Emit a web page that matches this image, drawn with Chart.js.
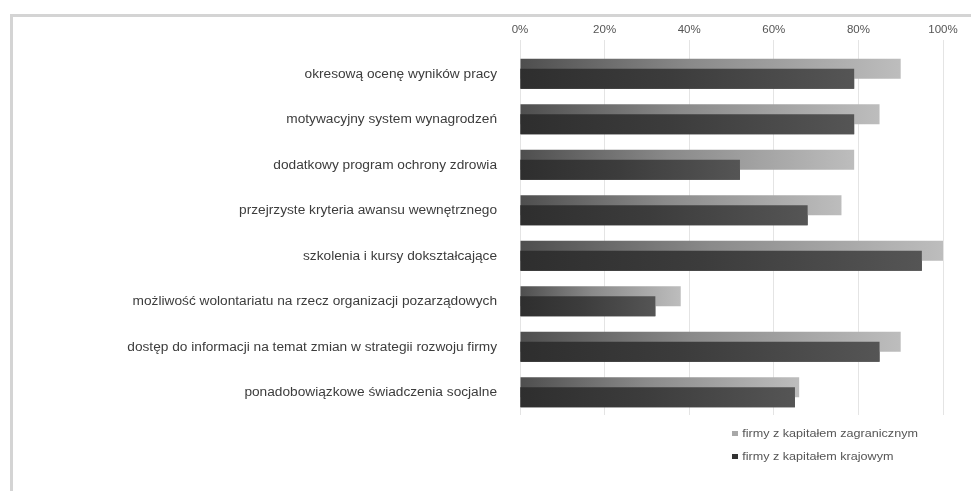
<!DOCTYPE html>
<html>
<head>
<meta charset="utf-8">
<script src="https://cdn.jsdelivr.net/npm/chart.js@4.4.1/dist/chart.umd.min.js"></script>
<style>
  html, body { margin: 0; padding: 0; background: #fff; }
  #wrap { position: relative; width: 971px; height: 491px; overflow: hidden; }
  #frame { position: absolute; left: 10px; top: 14px; right: -10px; bottom: -10px;
           border-top: 3px solid #d4d4d4; border-left: 3px solid #d4d4d4; }
  #chart { position: absolute; left: 0; top: 0; }
  #legend { position: absolute; left: 732px; top: 425px; transform: scaleX(1.2); transform-origin: 0 0;
            font: 10.5px "Liberation Sans", Arial, sans-serif; color: #555; }
  #legend div { height: 23px; line-height: 16px; white-space: nowrap; }
  #legend span { display: inline-block; width: 4.5px; height: 5px; margin-right: 4px; vertical-align: 1px; }
</style>
</head>
<body>
<div id="wrap">
  <div id="frame"></div>
  <canvas id="chart" width="971" height="491"></canvas>
  <div id="legend"></div>
</div>
<script>
// Benefits offered by companies, share of firms (%)
const categories = [
  'okresową ocenę wyników pracy',
  'motywacyjny system wynagrodzeń',
  'dodatkowy program ochrony zdrowia',
  'przejrzyste kryteria awansu wewnętrznego',
  'szkolenia i kursy dokształcające',
  'możliwość wolontariatu na rzecz organizacji pozarządowych',
  'dostęp do informacji na temat zmian w strategii rozwoju firmy',
  'ponadobowiązkowe świadczenia socjalne'
];
const seriesNames = ['firmy z kapitałem zagranicznym', 'firmy z kapitałem krajowym'];
const foreignCapital = [90, 85, 79, 76, 100, 38, 90, 66];
const domesticCapital = [79, 79, 52, 68, 95, 32, 85, 65];
const tickValues = [0, 20, 40, 60, 80, 100];

// Horizontal gradient running from the zero line to the end of each bar
function barGradient(from, mid, to) {
  return (c) => {
    const chart = c.chart;
    if (!chart.chartArea || c.type !== 'data') return from;
    const x = chart.scales.x;
    const start = x.getPixelForValue(0);
    const end = Math.max(start + 1, x.getPixelForValue(c.parsed.x));
    const g = chart.ctx.createLinearGradient(start, 0, end, 0);
    g.addColorStop(0, from);
    g.addColorStop(0.45, mid);
    g.addColorStop(1, to);
    return g;
  };
}

// Lower (domestic) bars overlap the upper ones, so paint them again on top
const frontBars = {
  id: 'frontBars',
  afterDatasetsDraw(chart) {
    const meta = chart.getDatasetMeta(1);
    const ctx = chart.ctx, a = chart.chartArea;
    ctx.save();
    ctx.beginPath();
    ctx.rect(a.left, a.top, a.right - a.left, a.bottom - a.top);
    ctx.clip();
    meta.data.forEach(el => el.draw(ctx));
    ctx.restore();
  }
};

const chart = new Chart(document.getElementById('chart'), {
  type: 'bar',
  data: {
    labels: categories,
    datasets: [
      {
        label: seriesNames[0],
        data: foreignCapital,
        backgroundColor: barGradient('#4e4e4e', '#8a8a8a', '#bdbdbd'),
        legendColor: '#a8a8a8'
      },
      {
        label: seriesNames[1],
        data: domesticCapital,
        backgroundColor: barGradient('#2e2e2e', '#3c3c3c', '#555555'),
        legendColor: '#333333'
      }
    ]
  },
  options: {
    indexAxis: 'y',
    responsive: false,
    animation: false,
    categoryPercentage: 0.44,
    barPercentage: 2,
    layout: { padding: { left: 0, top: 0, right: 28, bottom: 76 } },
    plugins: {
      legend: { display: false },
      tooltip: { enabled: false }
    },
    scales: {
      x: {
        position: 'top',
        min: 0,
        max: 100,
        afterFit(s) { s.height = 51; },
        afterBuildTicks(s) { s.ticks = tickValues.map(v => ({ value: v })); },
        border: { display: false },
        grid: { color: '#e4e4e4', lineWidth: 1, tickLength: 11, drawTicks: true },
        ticks: {
          padding: 3,
          color: '#555',
          font: { family: '"Liberation Sans", Arial, sans-serif', size: 11.5 },
          callback: v => v + '%'
        }
      },
      y: {
        afterFit(s) { s.width = 520; },
        border: { display: false },
        grid: { display: false, drawTicks: false },
        ticks: {
          padding: 23,
          color: '#3c3c3c',
          font: { family: '"Liberation Sans", Arial, sans-serif', size: 13.7 }
        }
      }
    }
  },
  plugins: [frontBars]
});

// Legend beneath the plot, one series per row
const legend = document.getElementById('legend');
chart.data.datasets.forEach(ds => {
  const row = document.createElement('div');
  const sw = document.createElement('span');
  sw.style.background = ds.legendColor;
  row.appendChild(sw);
  row.appendChild(document.createTextNode(ds.label));
  legend.appendChild(row);
});
</script>
</body>
</html>
